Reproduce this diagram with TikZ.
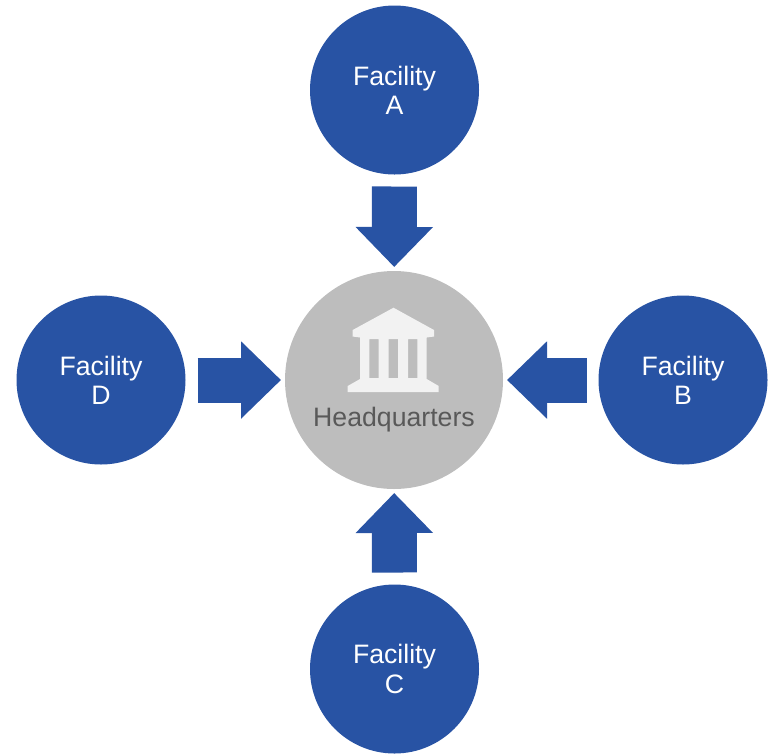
\documentclass[tikz,border=0pt]{standalone}
\usepackage{fontspec}
\setmainfont{Liberation Sans}
\usetikzlibrary{arrows.meta}
\definecolor{facblue}{HTML}{2853A4}
\definecolor{hqgrey}{HTML}{BDBDBD}
\definecolor{hqtext}{HTML}{595959}
\definecolor{hqicon}{HTML}{F2F2F2}

\begin{document}
\begin{tikzpicture}[x=0.75pt,y=0.75pt,yscale=-1,xscale=1,
  facility/.style={circle,fill=facblue,text=white,minimum size=126.75pt,inner sep=0pt,outer sep=0pt,align=center,font=\fontsize{20}{22}\selectfont},
  hub/.style={circle,fill=hqgrey,minimum size=163.5pt,inner sep=0pt,outer sep=0pt},
  flow/.style={draw=facblue,line width=33.75pt,-{Triangle[length=30pt,width=56.25pt,fill=facblue]},shorten <=9pt,shorten >=3pt}]
\useasboundingbox (0,0) rectangle (770,754);

%Shape: Circle
\node [hub] (hq) at (394,380) {};
\node [facility] (facA) at (394.5,90) {Facility\\A};
\node [facility] (facB) at (683,380) {Facility\\B};
\node [facility] (facC) at (394.5,669) {Facility\\C};
\node [facility] (facD) at (101,380) {Facility\\D};

%Shape: Arrow
\draw [flow] (facA) -- (hq);
\draw [flow] (facB) -- (hq);
\draw [flow] (facC) -- (hq);
\draw [flow] (facD) -- (hq);

%Shape: Building
\fill [hqicon,even odd rule] (393.5,307.7) -- (434,330) -- (434,336.5) -- (426.7,337.5) -- (426.7,379) -- (438.7,386) -- (438.7,392) -- (347.7,392) -- (347.7,386) -- (360,379) -- (360,337.5) -- (352.7,336.5) -- (352.7,330) -- cycle
  (369.3,339) rectangle (378.7,378)
  (388.7,339) rectangle (398,378)
  (408,339) rectangle (417.3,378);

% Text Node
\node [text=hqtext,inner sep=0pt,font=\fontsize{20}{22}\selectfont] (hqlabel) at (394,420) {Headquarters};
\end{tikzpicture}
\end{document}
